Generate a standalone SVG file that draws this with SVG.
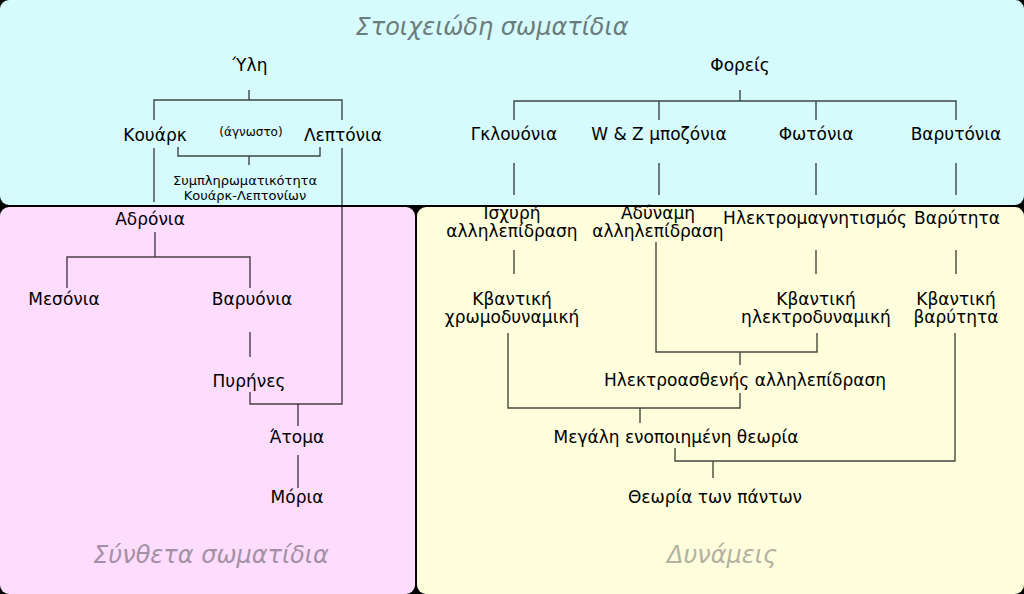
<svg xmlns="http://www.w3.org/2000/svg" width="1024" height="594" viewBox="0 0 1024 594">
<style>
text{font-family:"DejaVu Sans","Noto Sans",sans-serif;fill:#000;text-anchor:middle}
.n{font-size:17px}
.s{font-size:12px}
.m{font-size:13px}
.t{font-size:24px;font-style:italic}
.c path{fill:none;stroke:#000;stroke-opacity:0.72;stroke-width:1.4}
</style>
<rect x="0" y="0" width="1024" height="594" fill="#000"/>
<g id="box-elementary"><rect x="0" y="0" width="1024" height="205" rx="9" fill="#d6fbfc"/><text class="t" x="492" y="35" style="fill:#6c7b7c">Στοιχειώδη σωματίδια</text></g>
<g id="box-composite"><rect x="0" y="207" width="415" height="387" rx="9" fill="#fedcfe"/><text class="t" x="211" y="563" style="fill:#a291a4">Σύνθετα σωματίδια</text></g>
<g id="box-forces"><rect x="417" y="207" width="607" height="387" rx="9" fill="#fefedc"/><text class="t" x="722" y="563" style="fill:#b2b2a2">Δυνάμεις</text></g>
<g class="c" id="connectors">
<path d="M249,90V100M154,120V100H342V120"/>
<path d="M154,148V202"/>
<path d="M342,148V404H250V392"/>
<path d="M298,404V426M298,455V488"/>
<path d="M178,147V156H320V147M249,156V165"/>
<path d="M155,232V257M67,288V257H250V288"/>
<path d="M250,332V357"/>
<path d="M740,90V101M514,120V101H956V120M659,101V120M816,101V120"/>
<path d="M514,163V195M659,163V195M816,163V195M956,163V195"/>
<path d="M514,250V274M816,250V274M956,250V274"/>
<path d="M656,242V352H817V333M740,352V365"/>
<path d="M740,393V408H508V333M640,408V423"/>
<path d="M675,448V461H955V333M713,461V478"/>
</g>
<g id="n-yli"><text class="n" x="250" y="71">Ύλη</text></g>
<g id="n-quark"><text class="n" x="155" y="141">Κουάρκ</text></g>
<g id="n-unknown"><text class="s" x="251" y="136">(άγνωστο)</text></g>
<g id="n-lepton"><text class="n" x="343" y="141">Λεπτόνια</text></g>
<g id="n-compl"><text class="m" x="245" y="185">Συμπληρωματικότητα</text><text class="m" x="245" y="200">Κουάρκ-Λεπτονίων</text></g>
<g id="n-hadron"><text class="n" x="150" y="225">Αδρόνια</text></g>
<g id="n-meson"><text class="n" x="64" y="305">Μεσόνια</text></g>
<g id="n-baryon"><text class="n" x="252" y="305">Βαρυόνια</text></g>
<g id="n-nuclei"><text class="n" x="249" y="387">Πυρήνες</text></g>
<g id="n-atoms"><text class="n" x="297" y="443">Άτομα</text></g>
<g id="n-molecules"><text class="n" x="297" y="503">Μόρια</text></g>
<g id="n-carriers"><text class="n" x="740" y="71">Φορείς</text></g>
<g id="n-gluon"><text class="n" x="514" y="140">Γκλουόνια</text></g>
<g id="n-wz"><text class="n" x="659" y="140">W &amp; Z μποζόνια</text></g>
<g id="n-photon"><text class="n" x="816" y="140">Φωτόνια</text></g>
<g id="n-graviton"><text class="n" x="956" y="140">Βαρυτόνια</text></g>
<g id="n-strong"><text class="n" x="512" y="219">Ισχυρή</text><text class="n" x="512" y="237">αλληλεπίδραση</text></g>
<g id="n-weak"><text class="n" x="658" y="219">Αδύναμη</text><text class="n" x="658" y="237">αλληλεπίδραση</text></g>
<g id="n-em"><text class="n" x="815" y="224">Ηλεκτρομαγνητισμός</text></g>
<g id="n-gravity"><text class="n" x="957" y="224">Βαρύτητα</text></g>
<g id="n-qcd"><text class="n" x="512" y="305">Κβαντική</text><text class="n" x="512" y="323">χρωμοδυναμική</text></g>
<g id="n-qed"><text class="n" x="816" y="305">Κβαντική</text><text class="n" x="816" y="323">ηλεκτροδυναμική</text></g>
<g id="n-qg"><text class="n" x="956" y="305">Κβαντική</text><text class="n" x="956" y="323">βαρύτητα</text></g>
<g id="n-ew"><text class="n" x="745" y="386">Ηλεκτροασθενής αλληλεπίδραση</text></g>
<g id="n-gut"><text class="n" x="676" y="443">Μεγάλη ενοποιημένη θεωρία</text></g>
<g id="n-toe"><text class="n" x="715" y="503">Θεωρία των πάντων</text></g>
</svg>
